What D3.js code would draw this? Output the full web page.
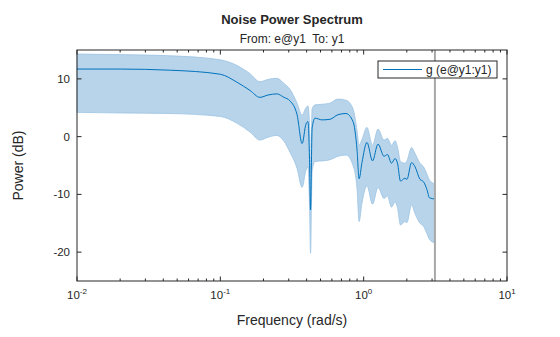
<!DOCTYPE html>
<html>
<head>
<meta charset="utf-8">
<script src="https://cdn.jsdelivr.net/npm/d3@7"></script>
<style>
  body { margin: 0; background: #fff; }
  text { font-family: "Liberation Sans", Arial, sans-serif; fill: #262626; }
</style>
</head>
<body>
<div id="chart"></div>
<script>
// ----------------------------------------------------------------------
// data (frequency in rad/s, power in dB)

var freq = [0.01, 0.02, 0.045, 0.1, 0.131, 0.161, 0.189, 0.215, 0.248, 0.278,
            0.306, 0.343, 0.372, 0.396, 0.409, 0.419, 0.426, 0.437, 0.458, 0.512,
            0.582, 0.662, 0.753, 0.843, 0.899, 0.929, 0.973, 1.054, 1.153, 1.259,
            1.387, 1.466, 1.563, 1.656, 1.722, 1.807, 1.941, 2.004, 2.158, 2.28,
            2.472, 2.612, 2.767, 2.877, 3.1416];

var power = [11.7, 11.7, 11.5, 10.8, 9.4, 8.0, 6.8, 7.2, 7.4, 6.8,
             6.2, 3.8, -1.2, 2.2, 2.6, -4.0, -12.7, 1.5, 3.2, 2.9,
             3.0, 3.8, 4.0, 2.6, -2.3, -7.3, -4.5, -1.0, -4.2, -1.3,
             -3.4, -3.1, -4.6, -3.8, -4.6, -7.7, -7.2, -7.4, -4.5, -5.2,
             -7.4, -7.8, -9.2, -10.6, -10.8];

var upper = [14.3, 14.2, 14.0, 13.3, 12.3, 10.9, 9.5, 9.9, 10.1, 9.2,
             8.2, 5.8, 3.7, 5.0, 5.3, 2.0, -6.0, 4.8, 5.5, 5.6,
             5.8, 6.5, 6.3, 4.8, 1.0, -1.5, -0.5, 1.6, -1.5, 1.3,
             -0.6, -0.3, -1.5, -0.7, -1.8, -4.3, -4.6, -4.2, -1.9, -2.9,
             -4.6, -5.2, -6.5, -7.5, -8.2];

var lower = [4.2, 4.1, 4.0, 3.5, 2.3, 0.8, -0.6, -0.1, 0.2, -0.8,
             -2.7, -5.5, -8.8, -5.8, -5.2, -12.0, -20.2, -6.0, -4.3, -4.2,
             -4.0, -3.4, -3.2, -5.0, -9.0, -14.7, -11.5, -8.5, -11.7, -8.8,
             -10.7, -10.3, -12.2, -11.3, -12.3, -15.3, -14.7, -14.9, -11.8, -13.3,
             -15.0, -15.5, -16.8, -17.8, -18.4];

var nyquist = Math.PI;
var xTickExp = [-2, -1, 0, 1];
var yTicks = [-20, -10, 0, 10];

// ----------------------------------------------------------------------

var width = 560, height = 337;
var margin = {left: 77, right: 53, top: 50, bottom: 56};
var iw = width - margin.left - margin.right;
var ih = height - margin.top - margin.bottom;

// legend box, relative to the axes
var legBox = {x: 301, y: 11, w: 119, h: 17};

var svg = d3.select("#chart").append("svg")
            .attr("width", width)
            .attr("height", height);

var x = d3.scaleLog().domain([0.01, 10]).range([0, iw]);
var y = d3.scaleLinear().domain([-25, 15]).range([ih, 0]);

var g = svg.append("g").attr("transform", "translate(" + margin.left + "," + margin.top + ")");

var pts = freq.map(function(f, i) { return {f: f, p: power[i], hi: upper[i], lo: lower[i]}; });

var area = d3.area()
             .x(function(d) { return x(d.f); })
             .y0(function(d) { return y(d.lo); })
             .y1(function(d) { return y(d.hi); })
             .curve(d3.curveMonotoneX);

g.append("path").datum(pts)
   .attr("d", area)
   .attr("fill", "#b7d4ea")
   .attr("stroke", "#9cc3e3")
   .attr("stroke-width", 0.8);

var line = d3.line()
             .x(function(d) { return x(d.f); })
             .y(function(d) { return y(d.p); })
             .curve(d3.curveMonotoneX);

g.append("path").datum(pts)
   .attr("d", line)
   .attr("fill", "none")
   .attr("stroke", "#0072bd")
   .attr("stroke-width", 1);

// nyquist marker, broken where the legend box sits over it
[[0, legBox.y], [legBox.y + legBox.h, ih]].forEach(function(s) {
    g.append("line")
       .attr("x1", x(nyquist)).attr("x2", x(nyquist))
       .attr("y1", s[0]).attr("y2", s[1])
       .attr("stroke", "#a8a8a8")
       .attr("stroke-width", 2);
});

// axes (ticks inside, all four sides, MATLAB style)
var minor = [];
for (var e = -2; e < 1; e++) {
    for (var m = 2; m <= 9; m++) minor.push(m * Math.pow(10, e));
}
var major = xTickExp.map(function(k) { return Math.pow(10, k); });

var ax = g.append("g").attr("stroke", "#262626").attr("stroke-width", 1);

minor.forEach(function(v) {
    ax.append("line").attr("x1", x(v)).attr("x2", x(v)).attr("y1", ih).attr("y2", ih - 2.5);
    ax.append("line").attr("x1", x(v)).attr("x2", x(v)).attr("y1", 0).attr("y2", 2.5);
});
major.forEach(function(v) {
    ax.append("line").attr("x1", x(v)).attr("x2", x(v)).attr("y1", ih).attr("y2", ih - 4.5);
    ax.append("line").attr("x1", x(v)).attr("x2", x(v)).attr("y1", 0).attr("y2", 4.5);
});
yTicks.forEach(function(v) {
    ax.append("line").attr("x1", 0).attr("x2", 4.5).attr("y1", y(v)).attr("y2", y(v));
    ax.append("line").attr("x1", iw).attr("x2", iw - 4.5).attr("y1", y(v)).attr("y2", y(v));
});

ax.append("rect")
   .attr("width", iw).attr("height", ih)
   .attr("fill", "none");

// tick labels
xTickExp.forEach(function(k) {
    var t = g.append("text")
             .attr("x", x(Math.pow(10, k)))
             .attr("y", ih + 18)
             .attr("text-anchor", "middle")
             .style("font-size", "11.5px");
    t.append("tspan").text("10");
    t.append("tspan").attr("dy", -5).style("font-size", "8px").text(k);
});

yTicks.forEach(function(v) {
    g.append("text")
       .attr("x", -7)
       .attr("y", y(v) + 4)
       .attr("text-anchor", "end")
       .style("font-size", "11.5px")
       .text(v);
});

// titles & labels
svg.append("text")
   .attr("x", margin.left + iw / 2).attr("y", 24)
   .attr("text-anchor", "middle")
   .style("font-size", "13px").style("font-weight", "bold")
   .text("Noise Power Spectrum");

svg.append("text")
   .attr("x", margin.left + iw / 2).attr("y", 43)
   .attr("text-anchor", "middle")
   .style("font-size", "12px")
   .style("white-space", "pre")
   .text("From: e@y1  To: y1");

svg.append("text")
   .attr("x", margin.left + iw / 2).attr("y", 325)
   .attr("text-anchor", "middle")
   .style("font-size", "14px")
   .text("Frequency (rad/s)");

svg.append("text")
   .attr("transform", "translate(23," + (margin.top + ih / 2) + ") rotate(-90)")
   .attr("text-anchor", "middle")
   .style("font-size", "14px")
   .text("Power (dB)");

// legend
var lg = g.append("g").attr("transform", "translate(" + legBox.x + "," + legBox.y + ")");
lg.append("rect").attr("width", legBox.w).attr("height", legBox.h)
   .style("fill", "#ffffff").style("stroke", "#262626").style("stroke-width", 1);
lg.append("line").attr("x1", 5).attr("x2", 44).attr("y1", 8.5).attr("y2", 8.5)
   .style("stroke", "#0072bd").style("stroke-width", 1);
lg.append("text").attr("x", 48).attr("y", 13)
   .style("font-size", "12px")
   .text("g (e@y1:y1)");
</script>
</body>
</html>
